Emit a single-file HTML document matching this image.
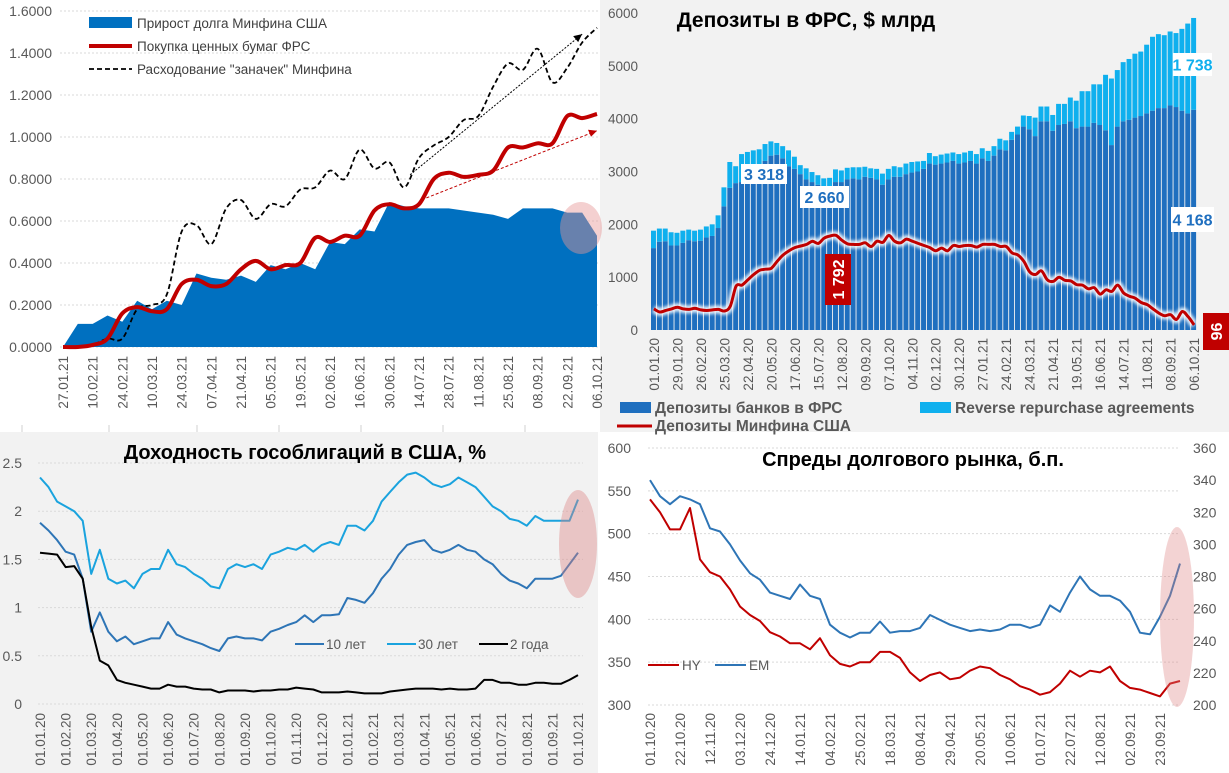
<!DOCTYPE html>
<html><head><meta charset="utf-8"><style>
body{margin:0;width:1229px;height:773px;overflow:hidden;background:#fff;font-family:"Liberation Sans",sans-serif}
svg{display:block}
</style></head><body>
<svg id="s" width="1229" height="773" xmlns="http://www.w3.org/2000/svg" font-family="Liberation Sans, sans-serif">
<defs><filter id="glow" x="-5%" y="-20%" width="110%" height="140%"><feGaussianBlur stdDeviation="1.6"/></filter></defs>
<rect x="0" y="0" width="600" height="425" fill="#fff"/>
<rect x="600" y="0" width="629" height="432" fill="#f2f2f2"/>
<rect x="0" y="425" width="598" height="348" fill="#f2f2f2"/>
<rect x="0" y="425" width="598" height="7" fill="#fff"/>
<rect x="600" y="432" width="629" height="341" fill="#fff"/>
<g id="c1"></g>
<g id="c2"></g>
<g id="c3"></g>
<g id="c4"></g>
</svg>
<script>
// ---- Chart 1 data ----
const c1Dates=["27.01.21","10.02.21","24.02.21","10.03.21","24.03.21","07.04.21","21.04.21","05.05.21","19.05.21","02.06.21","16.06.21","30.06.21","14.07.21","28.07.21","11.08.21","25.08.21","08.09.21","22.09.21","06.10.21"];
const c1Ticks=[0,0.2,0.4,0.6,0.8,1.0,1.2,1.4,1.6];
const c1Debt=[0,0.11,0.11,0.15,0.12,0.22,0.18,0.22,0.20,0.35,0.33,0.32,0.34,0.31,0.39,0.37,0.40,0.37,0.50,0.49,0.56,0.55,0.69,0.67,0.66,0.66,0.66,0.65,0.64,0.63,0.61,0.66,0.66,0.66,0.64,0.64,0.53];
const c1Fed=[0,0,0.01,0.04,0.16,0.19,0.17,0.18,0.30,0.32,0.29,0.30,0.37,0.41,0.37,0.39,0.40,0.52,0.50,0.53,0.53,0.65,0.68,0.66,0.68,0.80,0.83,0.81,0.82,0.84,0.95,0.95,0.97,0.97,1.10,1.09,1.11];
const c1Stash=[0,0,0.01,0.04,0.04,0.18,0.20,0.25,0.55,0.58,0.49,0.66,0.70,0.61,0.68,0.67,0.75,0.76,0.84,0.80,0.94,0.85,0.88,0.76,0.90,0.96,1.00,1.08,1.10,1.24,1.35,1.32,1.42,1.26,1.33,1.45,1.52];
// ---- Chart 2 data ----
const c2Dates=["01.01.20","29.01.20","26.02.20","25.03.20","22.04.20","20.05.20","17.06.20","15.07.20","12.08.20","09.09.20","07.10.20","04.11.20","02.12.20","30.12.20","27.01.21","24.02.21","24.03.21","21.04.21","19.05.21","16.06.21","14.07.21","11.08.21","08.09.21","06.10.21"];
const c2Ticks=[0,1000,2000,3000,4000,5000,6000];
const c2Banks=[1550,1670,1680,1600,1600,1650,1700,1680,1690,1750,1780,1930,2340,2690,2780,2800,2850,2950,3050,3200,3300,3318,3250,3100,3050,2950,2850,2800,2750,2700,2660,2800,2800,2850,2870,2850,2900,2880,2850,2750,2850,2900,2900,2950,2980,3000,3050,3150,3130,3150,3170,3200,3150,3170,3200,3150,3250,3200,3300,3420,3400,3600,3700,3850,3800,3670,3950,3950,3770,3880,3900,3950,3820,3850,3850,3920,3880,3780,3500,3850,3950,3980,4020,4050,4100,4150,4200,4200,4250,4220,4150,4100,4168];
const c2Total=[1880,1920,1920,1850,1840,1880,1900,1880,1900,1960,2000,2170,2700,3180,3100,3330,3370,3400,3420,3520,3570,3540,3480,3400,3280,3120,3060,2990,2930,2870,2880,3040,3020,3070,3080,3080,3090,3060,3050,2960,3050,3100,3080,3150,3180,3190,3200,3350,3290,3320,3340,3360,3330,3360,3390,3330,3440,3390,3480,3620,3590,3750,3850,4060,4050,4020,4230,4230,4070,4280,4280,4400,4340,4520,4520,4650,4650,4830,4760,4920,5070,5130,5230,5270,5400,5550,5600,5580,5650,5620,5700,5800,5906];
const c2Tsy=[400,340,370,400,430,400,390,410,380,370,380,390,360,450,830,850,950,1050,1130,1150,1170,1300,1420,1500,1560,1590,1620,1680,1640,1740,1780,1792,1700,1630,1620,1620,1650,1580,1680,1660,1790,1680,1650,1720,1680,1640,1600,1560,1500,1550,1500,1600,1580,1600,1600,1570,1620,1620,1620,1580,1580,1460,1420,1300,1100,1050,1120,950,920,1000,940,930,860,850,780,800,680,760,730,850,700,640,600,520,480,400,320,270,290,200,350,250,96];
// ---- Chart 3 data (3 points per month, Jan-20 .. Oct-21) ----
const c3Dates=["01.01.20","01.02.20","01.03.20","01.04.20","01.05.20","01.06.20","01.07.20","01.08.20","01.09.20","01.10.20","01.11.20","01.12.20","01.01.21","01.02.21","01.03.21","01.04.21","01.05.21","01.06.21","01.07.21","01.08.21","01.09.21","01.10.21"];
const c3Ticks=[0,0.5,1,1.5,2,2.5];
const c3Y10=[1.88,1.80,1.70,1.58,1.55,1.30,0.75,0.95,0.75,0.65,0.70,0.62,0.65,0.68,0.68,0.85,0.72,0.68,0.65,0.62,0.58,0.55,0.68,0.70,0.68,0.68,0.66,0.75,0.78,0.82,0.85,0.92,0.85,0.92,0.92,0.93,1.10,1.08,1.05,1.15,1.30,1.40,1.55,1.65,1.68,1.70,1.60,1.57,1.60,1.65,1.60,1.58,1.50,1.45,1.35,1.28,1.25,1.20,1.30,1.30,1.30,1.33,1.45,1.57];
const c3Y30=[2.35,2.25,2.10,2.05,2.00,1.90,1.35,1.60,1.30,1.25,1.28,1.20,1.35,1.40,1.40,1.60,1.45,1.42,1.35,1.30,1.22,1.20,1.40,1.45,1.42,1.45,1.40,1.55,1.58,1.62,1.60,1.65,1.58,1.65,1.68,1.65,1.85,1.85,1.80,1.90,2.10,2.20,2.30,2.38,2.40,2.35,2.28,2.25,2.28,2.35,2.30,2.25,2.15,2.05,2.00,1.92,1.90,1.85,1.95,1.90,1.90,1.90,1.90,2.12];
const c3Y2=[1.57,1.56,1.55,1.42,1.43,1.30,0.80,0.45,0.40,0.25,0.22,0.20,0.18,0.16,0.16,0.20,0.18,0.18,0.16,0.15,0.15,0.12,0.14,0.14,0.14,0.13,0.14,0.14,0.15,0.15,0.17,0.16,0.15,0.12,0.12,0.12,0.13,0.12,0.11,0.11,0.11,0.13,0.14,0.15,0.16,0.16,0.16,0.15,0.16,0.15,0.15,0.16,0.25,0.25,0.22,0.22,0.20,0.20,0.22,0.22,0.21,0.21,0.25,0.30];
// ---- Chart 4 data (weekly) ----
const c4Dates=["01.10.20","22.10.20","12.11.20","03.12.20","24.12.20","14.01.21","04.02.21","25.02.21","18.03.21","08.04.21","29.04.21","20.05.21","10.06.21","01.07.21","22.07.21","12.08.21","02.09.21","23.09.21"];
const c4LeftTicks=[300,350,400,450,500,550,600];
const c4RightTicks=[200,220,240,260,280,300,320,340,360];
const c4HY=[540,525,505,505,530,470,455,450,435,415,405,398,385,380,372,372,365,378,358,348,345,350,350,362,362,355,338,328,335,338,330,332,340,345,343,335,330,322,318,312,315,325,340,333,340,338,345,328,320,318,314,310,325,328];
const c4EM=[340,330,325,330,328,325,310,308,300,290,282,278,270,268,266,275,268,266,250,245,242,245,245,252,245,246,246,248,256,253,250,248,246,247,246,247,250,250,248,250,262,258,270,280,272,268,268,265,258,245,244,255,268,288];

const NS="http://www.w3.org/2000/svg";
function mk(parent,tag,attrs,text){const e=document.createElementNS(NS,tag);for(const k in attrs)e.setAttribute(k,attrs[k]);if(text!==undefined)e.textContent=text;parent.appendChild(e);return e;}
function poly(xs,ys){return xs.map((x,i)=>(i?'L':'M')+x.toFixed(1)+' '+ys[i].toFixed(1)).join(' ');}
function smooth(pts){let d='M'+pts[0][0]+' '+pts[0][1];for(let i=0;i<pts.length-1;i++){const p0=pts[i-1]||pts[i],p1=pts[i],p2=pts[i+1],p3=pts[i+2]||p2;const c1x=p1[0]+(p2[0]-p0[0])/6,c1y=p1[1]+(p2[1]-p0[1])/6,c2x=p2[0]-(p3[0]-p1[0])/6,c2y=p2[1]-(p3[1]-p1[1])/6;d+=` C${c1x.toFixed(1)} ${c1y.toFixed(1)} ${c2x.toFixed(1)} ${c2y.toFixed(1)} ${p2[0].toFixed(1)} ${p2[1].toFixed(1)}`;}return d;}

// ===== Chart 1 =====
(function(){
const g=document.getElementById('c1');
const X=i=>63+i*(534/(c1Debt.length-1));
const Y=v=>347-v*(336/1.6);
c1Ticks.forEach(t=>{
 const l=mk(g,'line',{x1:60,x2:598,y1:Y(t),y2:Y(t),stroke:'#d9d9d9','stroke-dasharray':'2 2'});
 
 const tx=mk(g,'text',{x:52,y:Y(t)+5,'text-anchor':'end','font-size':14,fill:'#595959'},t.toFixed(4));
 
});
const xs=c1Debt.map((v,i)=>X(i));
const area=mk(g,'path',{d:poly(xs,c1Debt.map(Y))+` L${X(c1Debt.length-1)} ${Y(0)} L${X(0)} ${Y(0)} Z`,fill:'#0070c0'});

const st=mk(g,'path',{d:smooth(c1Stash.map((v,i)=>[X(i),Y(v)])),fill:'none',stroke:'#000','stroke-width':1.8,'stroke-dasharray':'5 3'});

const fd=mk(g,'path',{d:smooth(c1Fed.map((v,i)=>[X(i),Y(v)])),fill:'none',stroke:'#c00000','stroke-width':4});

// trend arrows
const a1=mk(g,'line',{x1:X(23.4),y1:Y(0.82),x2:X(35),y2:Y(1.49),stroke:'#000','stroke-width':1,'stroke-dasharray':'2 1.5'});

mk(g,'polygon',{points:`${X(35)},${Y(1.49)} ${X(35)-9},${Y(1.49)+2} ${X(35)-4},${Y(1.49)+8}`,fill:'#000'});
const a2=mk(g,'line',{x1:X(24.5),y1:Y(0.71),x2:X(36),y2:Y(1.03),stroke:'#c00000','stroke-width':1,'stroke-dasharray':'3 2'});

mk(g,'polygon',{points:`${X(36)},${Y(1.03)} ${X(36)-9},${Y(1.03)-1} ${X(36)-6},${Y(1.03)+6}`,fill:'#c00000'});
const el=mk(g,'ellipse',{cx:581,cy:228,rx:21,ry:26,fill:'rgba(230,150,150,0.45)'});

c1Dates.forEach((d,i)=>{const x=63+i*(534/(c1Dates.length-1));
 const t=mk(g,'text',{x:0,y:0,transform:`translate(${x+5},356) rotate(-90)`,'text-anchor':'end','font-size':13.5,fill:'#595959'},d);
 });
// legend
const lg=mk(g,'g',{});
mk(lg,'rect',{x:89,y:17,width:43,height:11,fill:'#0070c0'});
mk(lg,'text',{x:137,y:28,'font-size':13.5,fill:'#404040'},'Прирост долга Минфина США');
mk(lg,'line',{x1:89,x2:132,y1:46,y2:46,stroke:'#c00000','stroke-width':4});
mk(lg,'text',{x:137,y:51,'font-size':13.5,fill:'#404040'},'Покупка ценных бумаг ФРС');
mk(lg,'line',{x1:89,x2:132,y1:69,y2:69,stroke:'#000','stroke-width':1.8,'stroke-dasharray':'5 3'});
mk(lg,'text',{x:137,y:74,'font-size':13.5,fill:'#404040'},'Расходование "заначек" Минфина');
})();

// ===== Chart 2 =====
(function(){
const g=document.getElementById('c2');
const n=c2Banks.length,bw=546/n;
const X=i=>651+i*bw;
const Y=v=>330-v*(317/6000);
c2Ticks.forEach(t=>{const tx=mk(g,'text',{x:638,y:Y(t)+5,'text-anchor':'end','font-size':13.5,fill:'#595959'},String(t));
 });
c2Banks.forEach((v,i)=>{
 const r=mk(g,'rect',{x:X(i),y:Y(v),width:bw-0.9,height:Y(0)-Y(v),fill:'#1f6fbf'});
 
 const r2=mk(g,'rect',{x:X(i),y:Y(c2Total[i]),width:bw-0.9,height:Y(v)-Y(c2Total[i]),fill:'#0fb0ee'});
 
});
const pts=c2Tsy.map((v,i)=>[X(i)+bw/2,Y(v)]);
const d=smooth(pts);
mk(g,'path',{d,fill:'none',stroke:'#fff','stroke-width':8,opacity:0.9,filter:'url(#glow)'});
const ln=mk(g,'path',{d,fill:'none',stroke:'#c00000','stroke-width':3});

c2Dates.forEach((dt,i)=>{const x=X(i*4)+bw/2;
 const t=mk(g,'text',{x:0,y:0,transform:`translate(${x+5},338) rotate(-90)`,'text-anchor':'end','font-size':13.5,fill:'#595959'},dt);
 });
const ti=mk(g,'text',{x:806,y:27,'text-anchor':'middle','font-size':21,'font-weight':'bold',fill:'#000'},'Депозиты в ФРС, $ млрд');

function box(x,y,w,h,fill,txt,col,rot,name){const b=mk(g,'g',{});
 mk(b,'rect',{x,y,width:w,height:h,fill});
 if(rot) mk(b,'text',{x:0,y:0,transform:`translate(${x+w/2+6},${y+h/2}) rotate(-90)`,'text-anchor':'middle','font-size':16,'font-weight':'bold',fill:col},txt);
 else mk(b,'text',{x:x+w/2,y:y+h/2+6,'text-anchor':'middle','font-size':16,'font-weight':'bold',fill:col},txt);}
box(741,164,46,20,'#fff','3 318','#1f6fbf',0,'label-3318');
box(800,186,49,22,'#fff','2 660','#1f6fbf',0,'label-2660');
box(825,254,26,51,'#c00000','1 792','#fff',1,'label-1792');
box(1173,53,39,23,'#fff','1 738','#0fb0ee',0,'label-1738');
box(1171,207,43,25,'#fff','4 168','#1f6fbf',0,'label-4168');
box(1203,313,26,37,'#c00000','96','#fff',1,'label-96');
const lg=mk(g,'g',{});
mk(lg,'rect',{x:620,y:402,width:31,height:11,fill:'#1f6fbf'});
mk(lg,'text',{x:655,y:413,'font-size':15.5,'font-weight':'bold',fill:'#595959'},'Депозиты банков в ФРС');
mk(lg,'rect',{x:920,y:402,width:31,height:11,fill:'#0fb0ee'});
mk(lg,'text',{x:955,y:413,'font-size':15.5,'font-weight':'bold',fill:'#595959'},'Reverse repurchase agreements');
mk(lg,'line',{x1:617,x2:652,y1:426,y2:426,stroke:'#c00000','stroke-width':3});
mk(lg,'text',{x:655,y:431,'font-size':15.5,'font-weight':'bold',fill:'#595959'},'Депозиты Минфина США');
})();

// ===== Chart 3 =====
(function(){
const g=document.getElementById('c3');
[22,109,197,279,361,443,525].forEach(x=>mk(g,'line',{x1:x,x2:x,y1:425,y2:432,stroke:'#d0d0d0'}));
const X=m=>40+m*((578-40)/21);
const Y=v=>704-v*(241/2.5);
c3Ticks.forEach(t=>{
 const l=mk(g,'line',{x1:38,x2:583,y1:Y(t),y2:Y(t),stroke:'#d9d9d9','stroke-dasharray':'2 2'});
 
 const tx=mk(g,'text',{x:22,y:Y(t)+5,'text-anchor':'end','font-size':14,fill:'#595959'},String(t));
 });
const xs=c3Y10.map((v,i)=>X(i/3));
[[c3Y30,'#1aa3de','yield-30y-line'],[c3Y10,'#2e75b6','yield-10y-line'],[c3Y2,'#000','yield-2y-line']].forEach(([arr,col,nm])=>{
 const p=mk(g,'path',{d:poly(xs,arr.map(Y)),fill:'none',stroke:col,'stroke-width':2,'stroke-linejoin':'round'});
 });
const el=mk(g,'ellipse',{cx:578,cy:544,rx:19,ry:54,fill:'rgba(220,130,130,0.4)'});

c3Dates.forEach((d,i)=>{const t=mk(g,'text',{x:0,y:0,transform:`translate(${X(i)+5},713) rotate(-90)`,'text-anchor':'end','font-size':13.5,fill:'#595959'},d);
 });
const ti=mk(g,'text',{x:305,y:459,'text-anchor':'middle','font-size':20,'font-weight':'bold',fill:'#000'},'Доходность гособлигаций в США, %');

const lg=mk(g,'g',{});
[['10 лет','#2e75b6',295],['30 лет','#1aa3de',387],['2 года','#000',479]].forEach(([t,c,x])=>{
 mk(lg,'line',{x1:x,x2:x+29,y1:644,y2:644,stroke:c,'stroke-width':2});
 mk(lg,'text',{x:x+31,y:649,'font-size':13.5,fill:'#595959'},t);});
})();

// ===== Chart 4 =====
(function(){
const g=document.getElementById('c4');
const X=w=>650+w*10;
const YL=v=>705-(v-300)*(257/300);
const YR=v=>705-(v-200)*(257/160);
c4LeftTicks.forEach(t=>{
 const l=mk(g,'line',{x1:648,x2:1180,y1:YL(t),y2:YL(t),stroke:'#d9d9d9','stroke-dasharray':'2 2'});
 
 const tx=mk(g,'text',{x:631,y:YL(t)+5,'text-anchor':'end','font-size':14,fill:'#595959'},String(t));
 });
c4RightTicks.forEach(t=>{const tx=mk(g,'text',{x:1193,y:YR(t)+5,'font-size':14,fill:'#595959'},String(t));
 });
const xs=c4HY.map((v,i)=>X(i));
const hy=mk(g,'path',{d:poly(xs,c4HY.map(YL)),fill:'none',stroke:'#c00000','stroke-width':2,'stroke-linejoin':'round'});

const em=mk(g,'path',{d:poly(xs,c4EM.map(YR)),fill:'none',stroke:'#2e75b6','stroke-width':2,'stroke-linejoin':'round'});

const el=mk(g,'ellipse',{cx:1177,cy:617,rx:17,ry:90,fill:'rgba(220,130,130,0.35)'});

c4Dates.forEach((d,i)=>{const t=mk(g,'text',{x:0,y:0,transform:`translate(${X(i*3)+5},713) rotate(-90)`,'text-anchor':'end','font-size':13.5,fill:'#595959'},d);
 });
const ti=mk(g,'text',{x:913,y:466,'text-anchor':'middle','font-size':20,'font-weight':'bold',fill:'#000'},'Спреды долгового рынка, б.п.');

const lg=mk(g,'g',{});
mk(lg,'line',{x1:648,x2:679,y1:665,y2:665,stroke:'#c00000','stroke-width':2});
mk(lg,'text',{x:682,y:670,'font-size':13.5,fill:'#595959'},'HY');
mk(lg,'line',{x1:715,x2:746,y1:665,y2:665,stroke:'#2e75b6','stroke-width':2});
mk(lg,'text',{x:749,y:670,'font-size':13.5,fill:'#595959'},'EM');
})();
</script>
</body></html>
